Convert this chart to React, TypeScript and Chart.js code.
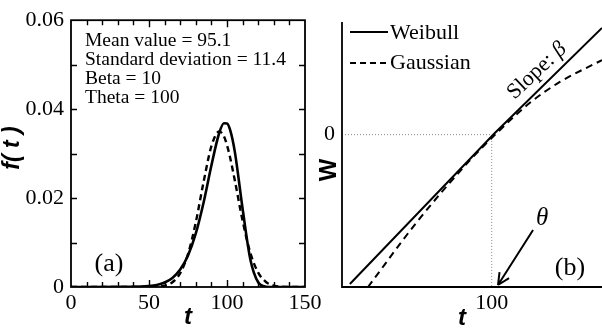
import React, { useEffect, useRef } from 'react';
import { Chart, registerables } from 'chart.js';
Chart.register(...registerables);

// ---------- Panel (a): probability density f(t) ----------
const pdfT = [0, 45, 50, 55, 60, 65, 70, 75, 80, 85, 90, 95, 98, 100, 102, 105, 110, 115, 120, 125, 130, 135, 140, 150];
const weibullPdf = [0, 0.00008, 0.0002, 0.00046, 0.001, 0.00204, 0.00392, 0.0071, 0.01205, 0.01902, 0.02734, 0.03463, 0.03683, 0.03679, 0.03532, 0.03044, 0.01761, 0.00615, 0.00106, 0.00007, 0, 0, 0, 0];
const gaussianPdf = [0, 0, 0.00001, 0.00007, 0.0003, 0.00107, 0.00311, 0.0074, 0.01455, 0.02364, 0.03167, 0.035, 0.0339, 0.0319, 0.0291, 0.024, 0.0149, 0.00763, 0.00322, 0.00112, 0.00033, 0.00008, 0.00001, 0];
const statLines = ['Mean value = 95.1', 'Standard deviation = 11.4', 'Beta = 10', 'Theta = 100'];
const panelALabel = '(a)';
const panelAYTitle = 'f( t )';
const xTitle = 't';

// ---------- Panel (b): Weibull plot W vs t ----------
const weibullLineT = [64.0, 100.8, 128.0];
const weibullLineW = [-4.51, 0.05, 3.22];
const gaussianLineT = [68.6, 81.0, 94.5, 102.1, 109.7, 117.3, 128.0];
const gaussianLineW = [-4.6, -2.64, -0.77, 0.14, 0.96, 1.59, 2.25];
const guideT = [62, 100, 100];
const guideW = [0, 0, -4.6];
const arrowFrom = { t: 110.5, w: -2.88 };
const arrowTo = { t: 101.6, w: -4.54 };
const seriesNames = ['Weibull', 'Gaussian'];
const panelBLabel = '(b)';
const panelBYTitle = 'W';
const slopeText = 'Slope: ';
const betaText = 'β';
const thetaText = 'θ';

const SERIF = '"Liberation Serif", "Times New Roman", serif';
const SANS = '"Liberation Sans", Arial, sans-serif';

const pts = (xs: number[], ys: number[]) => xs.map((x, i) => ({ x, y: ys[i] }));

const frameA = {
  id: 'frameA',
  afterDatasetsDraw(chart: any) {
    const { ctx, chartArea: a, scales } = chart;
    const xs = scales.x;
    const ys = scales.y;
    ctx.save();
    ctx.strokeStyle = '#000';
    ctx.lineWidth = 1.8;
    ctx.strokeRect(a.left, a.top, a.right - a.left, a.bottom - a.top);
    ctx.lineWidth = 1.4;
    ctx.beginPath();
    for (let v = 10; v < 150; v += 10) {
      const px = Math.round(xs.getPixelForValue(v)) + 0.5;
      const len = v % 50 === 0 ? 7 : 5;
      ctx.moveTo(px, a.bottom);
      ctx.lineTo(px, a.bottom - len);
      ctx.moveTo(px, a.top);
      ctx.lineTo(px, a.top + len);
    }
    for (let i = 1; i < 6; i++) {
      const py = Math.round(ys.getPixelForValue(i * 0.01)) + 0.5;
      ctx.moveTo(a.left, py);
      ctx.lineTo(a.left + 6, py);
      ctx.moveTo(a.right, py);
      ctx.lineTo(a.right - 6, py);
    }
    ctx.stroke();

    ctx.fillStyle = '#000';
    ctx.font = `19.5px ${SERIF}`;
    ctx.textAlign = 'left';
    ctx.textBaseline = 'alphabetic';
    statLines.forEach((s, i) => ctx.fillText(s, a.left + 14, a.top + 26 + i * 19));

    ctx.font = `26px ${SERIF}`;
    ctx.textAlign = 'center';
    ctx.textBaseline = 'middle';
    ctx.fillText(panelALabel, a.left + 38, a.bottom - 23);

    ctx.font = `italic bold 24px ${SANS}`;
    ctx.fillText(xTitle, (a.left + a.right) / 2, 317);

    ctx.save();
    ctx.translate(13, 148);
    ctx.rotate(-Math.PI / 2);
    ctx.font = `italic bold 23px ${SANS}`;
    ctx.fillText(panelAYTitle, 0, 0);
    ctx.restore();
    ctx.restore();
  },
};

const frameB = {
  id: 'frameB',
  afterDatasetsDraw(chart: any) {
    const { ctx, chartArea: a, scales } = chart;
    const xs = scales.x;
    const ys = scales.y;
    ctx.save();
    ctx.strokeStyle = '#000';
    ctx.fillStyle = '#000';
    ctx.lineWidth = 1.8;
    ctx.beginPath();
    ctx.moveTo(a.left, a.top);
    ctx.lineTo(a.left, a.bottom);
    ctx.lineTo(a.right, a.bottom);
    ctx.stroke();

    // legend
    const ds = chart.data.datasets;
    ctx.lineWidth = 2;
    ctx.setLineDash([]);
    ctx.beginPath();
    ctx.moveTo(a.left + 8, 32);
    ctx.lineTo(a.left + 46, 32);
    ctx.stroke();
    ctx.setLineDash([6, 4]);
    ctx.beginPath();
    ctx.moveTo(a.left + 8, 63);
    ctx.lineTo(a.left + 44, 63);
    ctx.stroke();
    ctx.setLineDash([]);
    ctx.font = `22px ${SERIF}`;
    ctx.textAlign = 'left';
    ctx.textBaseline = 'middle';
    ctx.fillText(ds[0].label, a.left + 48, 33);
    ctx.fillText(ds[1].label, a.left + 48, 63);

    // slope annotation
    ctx.save();
    ctx.translate(237, 71);
    ctx.rotate(-Math.PI / 4 + 0.03);
    ctx.font = `22px ${SERIF}`;
    const w1 = ctx.measureText(slopeText).width;
    ctx.font = `italic 22px ${SERIF}`;
    const w2 = ctx.measureText(betaText).width;
    const start = -(w1 + w2) / 2;
    ctx.textAlign = 'left';
    ctx.textBaseline = 'middle';
    ctx.font = `22px ${SERIF}`;
    ctx.fillText(slopeText, start, 0);
    ctx.font = `italic 22px ${SERIF}`;
    ctx.fillText(betaText, start + w1, 0);
    ctx.restore();

    // arrow to theta
    const x0 = xs.getPixelForValue(arrowFrom.t);
    const y0 = ys.getPixelForValue(arrowFrom.w);
    const x1 = xs.getPixelForValue(arrowTo.t);
    const y1 = ys.getPixelForValue(arrowTo.w);
    ctx.lineWidth = 2;
    ctx.beginPath();
    ctx.moveTo(x0, y0);
    ctx.lineTo(x1, y1);
    const ang = Math.atan2(y1 - y0, x1 - x0);
    const hl = 13;
    ctx.moveTo(x1, y1);
    ctx.lineTo(x1 - hl * Math.cos(ang - 0.45), y1 - hl * Math.sin(ang - 0.45));
    ctx.moveTo(x1, y1);
    ctx.lineTo(x1 - hl * Math.cos(ang + 0.45), y1 - hl * Math.sin(ang + 0.45));
    ctx.stroke();

    ctx.textAlign = 'center';
    ctx.textBaseline = 'middle';
    ctx.font = `italic 25px ${SERIF}`;
    ctx.fillText(thetaText, x0 + 9, y0 - 12);

    ctx.font = `26px ${SERIF}`;
    ctx.fillText(panelBLabel, 270, 268);

    ctx.font = `italic bold 24px ${SANS}`;
    ctx.fillText(xTitle, 162, 318);

    ctx.save();
    ctx.translate(29, 170);
    ctx.rotate(-Math.PI / 2);
    ctx.font = `bold 24px ${SANS}`;
    ctx.fillText(panelBYTitle, 0, 0);
    ctx.restore();
    ctx.restore();
  },
};

export default function App() {
  const refA = useRef<HTMLCanvasElement>(null);
  const refB = useRef<HTMLCanvasElement>(null);

  useEffect(() => {
    const tickFont = { family: SERIF, size: 22 };
    const ca = new Chart(refA.current as HTMLCanvasElement, {
      type: 'line',
      data: {
        datasets: [
          {
            label: seriesNames[0],
            data: pts(pdfT, weibullPdf),
            borderColor: '#000',
            borderWidth: 2.6,
            pointRadius: 0,
            cubicInterpolationMode: 'monotone',
            fill: false,
          },
          {
            label: seriesNames[1],
            data: pts(pdfT, gaussianPdf),
            borderColor: '#000',
            borderWidth: 2.4,
            borderDash: [6, 4],
            pointRadius: 0,
            cubicInterpolationMode: 'monotone',
            fill: false,
          },
        ],
      },
      options: {
        animation: false,
        responsive: false,
        devicePixelRatio: 1,
        layout: { padding: { left: 0, right: 35, top: 19, bottom: 0 } },
        plugins: { legend: { display: false }, tooltip: { enabled: false } },
        scales: {
          x: {
            type: 'linear',
            min: 0,
            max: 150,
            grid: { display: false, drawTicks: false },
            border: { display: false },
            ticks: { stepSize: 50, font: tickFont, color: '#000', padding: 3, maxRotation: 0 },
            afterFit: (s: any) => { s.height = 45; },
          },
          y: {
            type: 'linear',
            min: 0,
            max: 0.06,
            grid: { display: false, drawTicks: false },
            border: { display: false },
            ticks: {
              stepSize: 0.02,
              font: tickFont,
              color: '#000',
              padding: 7,
              callback: (v: any) => (Number(v) === 0 ? '0' : Number(v).toFixed(2)),
            },
            afterFit: (s: any) => { s.width = 71; },
          },
        },
      },
      plugins: [frameA],
    } as any);

    const cb = new Chart(refB.current as HTMLCanvasElement, {
      type: 'line',
      data: {
        datasets: [
          {
            label: seriesNames[0],
            data: pts(weibullLineT, weibullLineW),
            borderColor: '#000',
            borderWidth: 2,
            pointRadius: 0,
            tension: 0,
            fill: false,
          },
          {
            label: seriesNames[1],
            data: pts(gaussianLineT, gaussianLineW),
            borderColor: '#000',
            borderWidth: 2,
            borderDash: [7, 5],
            pointRadius: 0,
            cubicInterpolationMode: 'monotone',
            fill: false,
          },
          {
            label: 'guide',
            data: pts(guideT, guideW),
            borderColor: '#888',
            borderWidth: 1,
            borderDash: [1, 2],
            pointRadius: 0,
            tension: 0,
            fill: false,
          },
        ],
      },
      options: {
        animation: false,
        responsive: false,
        devicePixelRatio: 1,
        layout: { padding: { left: 0, right: 0, top: 22, bottom: 0 } },
        plugins: { legend: { display: false }, tooltip: { enabled: false } },
        scales: {
          x: {
            type: 'linear',
            min: 62,
            max: 128,
            grid: { display: false, drawTicks: false },
            border: { display: false },
            ticks: { font: tickFont, color: '#000', padding: 3, maxRotation: 0 },
            afterBuildTicks: (s: any) => { s.ticks = [{ value: 100 }]; },
            afterFit: (s: any) => { s.height = 45; },
          },
          y: {
            type: 'linear',
            min: -4.6,
            max: 3.4,
            grid: { display: false, drawTicks: false },
            border: { display: false },
            ticks: { font: tickFont, color: '#000', padding: 7 },
            afterBuildTicks: (s: any) => { s.ticks = [{ value: 0 }]; },
            afterFit: (s: any) => { s.width = 42; },
          },
        },
      },
      plugins: [frameB],
    } as any);

    return () => {
      ca.destroy();
      cb.destroy();
    };
  }, []);

  return (
    <div style={{ position: 'absolute', left: 0, top: 0, width: 602, height: 332, background: '#fff', overflow: 'hidden' }}>
      <canvas ref={refA} width={340} height={332} style={{ position: 'absolute', left: 0, top: 0, width: 340, height: 332 }} />
      <canvas ref={refB} width={302} height={332} style={{ position: 'absolute', left: 300, top: 0, width: 302, height: 332 }} />
    </div>
  );
}
